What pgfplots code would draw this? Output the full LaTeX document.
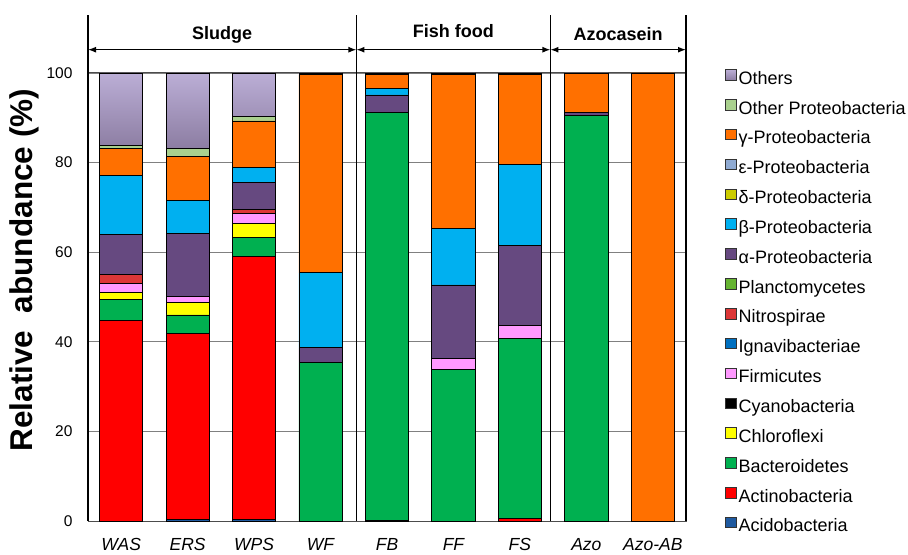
\documentclass[border=0pt]{standalone}
\usepackage{fontspec}
\setmainfont{Liberation Sans}
\usepackage{pgfplots}
\usepackage{pgfplotstable}
\pgfplotsset{compat=1.18}
\usetikzlibrary{arrows.meta}

\definecolor{cAcido}{RGB}{31,90,160}
\definecolor{cActino}{RGB}{255,0,0}
\definecolor{cBact}{RGB}{0,176,80}
\definecolor{cChloro}{RGB}{255,255,0}
\definecolor{cCyano}{RGB}{0,0,0}
\definecolor{cFirm}{RGB}{255,153,255}
\definecolor{cIgna}{RGB}{0,112,192}
\definecolor{cNitro}{RGB}{220,55,55}
\definecolor{cPlanc}{RGB}{102,180,50}
\definecolor{cAlpha}{RGB}{102,73,128}
\definecolor{cBeta}{RGB}{0,176,240}
\definecolor{cDelta}{RGB}{204,204,0}
\definecolor{cEps}{RGB}{143,170,210}
\definecolor{cGamma}{RGB}{255,112,0}
\definecolor{cOtherP}{RGB}{169,208,142}
\definecolor{cOthersTop}{RGB}{187,174,214}
\definecolor{cOthersBot}{RGB}{140,125,162}

\pgfplotstableread{
x Acido Actino Bact Chloro Cyano Firm Igna Nitro Planc Alpha Beta Delta Eps Gamma OtherP Others
0 0   44.8 4.7  1.5 0 2.0 0 2.1 0 8.9  13.1 0 0 6.0   0.8 16.1
1 0.3 41.5 4.2  2.8 0 1.4 0 0   0 14.0 7.3  0 0 9.9   1.7 16.9
2 0.3 58.7 4.2  3.2 0 2.3 0 0.9 0 5.9  3.4  0 0 10.4  1.0 9.7
3 0   0    35.4 0   0 0   0 0   0 3.3  16.7 0 0 44.2  0   0.4
4 0.2 0    91.0 0   0 0   0 0   0 3.9  1.4  0 0 3.1   0   0.4
5 0   0    33.9 0   0 2.3 0 0   0 16.5 12.6 0 0 34.3  0   0.4
6 0   0.5  40.2 0   0 3.0 0 0   0 17.8 18.1 0 0 20.0  0   0.4
7 0   0    90.5 0   0 0   0 0   0 0.7  0    0 0 8.6   0   0.2
8 0   0    0    0   0 0   0 0   0 0    0    0 0 100.0 0   0
}\datatable

\begin{document}
\begin{tikzpicture}[x=1pt,y=1pt]
\path (0,0) rectangle (908,552);
\begin{axis}[
  at={(88pt,31pt)}, anchor=south west,
  scale only axis, width=598pt, height=448pt,
  xmin=-0.5, xmax=8.5, ymin=0, ymax=100,
  ybar stacked, bar width=0.65,
  clip=false,
  xtick={0,...,8},
  xticklabels={WAS,ERS,WPS,WF,FB,FF,FS,Azo,Azo-AB},
  x tick label style={font=\fontsize{17.5}{17.5}\selectfont\itshape, yshift=-14pt},
  ytick={0,20,...,100},
  y tick label style={font=\fontsize{15.5}{15.5}\selectfont, xshift=-12pt},
  /pgf/number format/assume math mode=true,
  major tick length=0pt,
  ymajorgrids, grid style={draw=black!50, line width=0.9pt},
  axis line style={draw=black!70, line width=1pt},
  every axis plot/.append style={draw=black, line width=0.8pt},
  reverse legend,
  legend cell align=left,
  legend image code/.code={\draw[#1,draw=black!80,line width=0.9pt] (0pt,0pt) rectangle (10.5pt,10.5pt);},
  legend style={at={(rel axis cs:1,1)}, anchor=north west, xshift=39pt, yshift=4pt,
    draw=none, fill=none, inner sep=0pt, row sep=9.4pt,
    font=\fontsize{18}{19}\selectfont,
    nodes={inner sep=2pt, text height=11.5pt, text depth=3.5pt}},
]
\addplot[fill=cAcido] table[x=x,y=Acido]{\datatable};
\addlegendentry{Acidobacteria}
\addplot[fill=cActino] table[x=x,y=Actino]{\datatable};
\addlegendentry{Actinobacteria}
\addplot[fill=cBact] table[x=x,y=Bact]{\datatable};
\addlegendentry{Bacteroidetes}
\addplot[fill=cChloro] table[x=x,y=Chloro]{\datatable};
\addlegendentry{Chloroflexi}
\addplot[fill=cCyano] table[x=x,y=Cyano]{\datatable};
\addlegendentry{Cyanobacteria}
\addplot[fill=cFirm] table[x=x,y=Firm]{\datatable};
\addlegendentry{Firmicutes}
\addplot[fill=cIgna] table[x=x,y=Igna]{\datatable};
\addlegendentry{Ignavibacteriae}
\addplot[fill=cNitro] table[x=x,y=Nitro]{\datatable};
\addlegendentry{Nitrospirae}
\addplot[fill=cPlanc] table[x=x,y=Planc]{\datatable};
\addlegendentry{Planctomycetes}
\addplot[fill=cAlpha] table[x=x,y=Alpha]{\datatable};
\addlegendentry{α-Proteobacteria}
\addplot[fill=cBeta] table[x=x,y=Beta]{\datatable};
\addlegendentry{β-Proteobacteria}
\addplot[fill=cDelta] table[x=x,y=Delta]{\datatable};
\addlegendentry{δ-Proteobacteria}
\addplot[fill=cEps] table[x=x,y=Eps]{\datatable};
\addlegendentry{ε-Proteobacteria}
\addplot[fill=cGamma] table[x=x,y=Gamma]{\datatable};
\addlegendentry{γ-Proteobacteria}
\addplot[fill=cOtherP] table[x=x,y=OtherP]{\datatable};
\addlegendentry{Other Proteobacteria}
\addplot[top color=cOthersTop, bottom color=cOthersBot, draw=black] table[x=x,y=Others]{\datatable};
\addlegendentry{Others}

% y label
\node[rotate=90, font=\fontsize{31.5}{31.5}\selectfont\bfseries] at ([xshift=-64pt]rel axis cs:0,0.56) {Relative\ \ abundance (\%)};
% group dividers and annotations
\draw[black, line width=1.1pt] (axis cs:-0.5,0) -- (axis cs:-0.5,113);
\draw[black, line width=1.1pt] (axis cs:3.54,0) -- (axis cs:3.54,113);
\draw[black, line width=1.1pt] (axis cs:6.46,0) -- (axis cs:6.46,113);
\draw[black, line width=1.1pt] (axis cs:8.5,0) -- (axis cs:8.5,113);
\draw[{Latex[length=8pt,width=6pt]}-{Latex[length=8pt,width=6pt]}, line width=1.3pt] (axis cs:-0.5,105.2) -- (axis cs:3.54,105.2);
\draw[{Latex[length=8pt,width=6pt]}-{Latex[length=8pt,width=6pt]}, line width=1.3pt] (axis cs:3.54,105.2) -- (axis cs:6.46,105.2);
\draw[{Latex[length=8pt,width=6pt]}-{Latex[length=8pt,width=6pt]}, line width=1.3pt] (axis cs:6.46,105.2) -- (axis cs:8.5,105.2);
\node[font=\fontsize{18}{18}\selectfont\bfseries] at (axis cs:1.52,108.5) {Sludge};
\node[font=\fontsize{18}{18}\selectfont\bfseries] at (axis cs:5.0,109.4) {Fish food};
\node[font=\fontsize{18}{18}\selectfont\bfseries] at (axis cs:7.48,108.6) {Azocasein};
\end{axis}
\end{tikzpicture}
\end{document}
